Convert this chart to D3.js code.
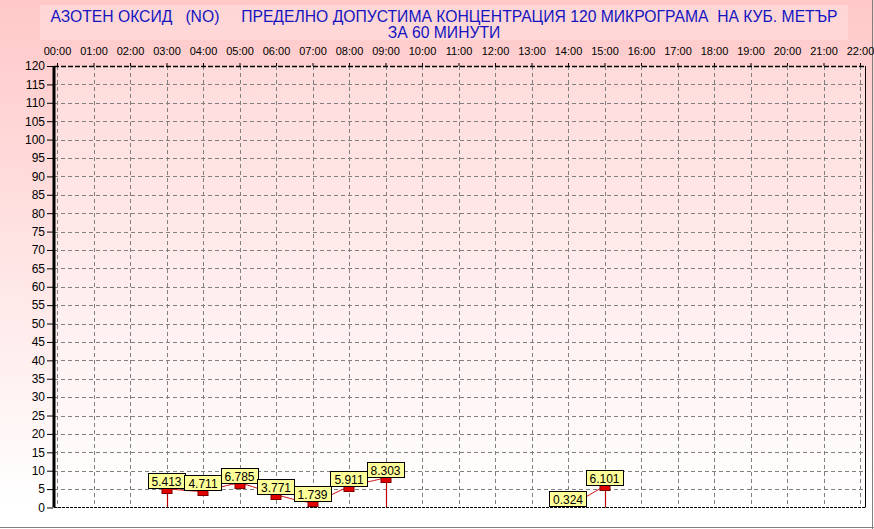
<!DOCTYPE html>
<html><head><meta charset="utf-8">
<script src="https://cdn.jsdelivr.net/npm/d3@7"></script>
<style>html,body{margin:0;padding:0;background:#fff;}svg{display:block;font-family:Arial,"Liberation Sans",sans-serif;}</style>
</head><body>
<script>
const titleLine1 = "АЗОТЕН ОКСИД   (NO)     ПРЕДЕЛНО ДОПУСТИМА КОНЦЕНТРАЦИЯ 120 МИКРОГРАМА  НА КУБ. МЕТЪР";
const titleLine2 = "ЗА 60 МИНУТИ";
const hourLabels = ["00:00","01:00","02:00","03:00","04:00","05:00","06:00","07:00","08:00","09:00","10:00","11:00","12:00","13:00","14:00","15:00","16:00","17:00","18:00","19:00","20:00","21:00","22:00"];
const yTicks = d3.range(0, 121, 5);
// measured segments (hour index, value)
const segment1Hours = [3,4,5,6,7,8,9];
const segment1Values = [5.413,4.711,6.785,3.771,1.739,5.911,8.303];
const segment2Hours = [14,15];
const segment2Values = [0.324,6.101];

const W = 874, H = 529;
const svg = d3.select("body").append("svg").attr("width", W).attr("height", H);
const defs = svg.append("defs");
const g = defs.append("linearGradient").attr("id","bg").attr("x1",0).attr("y1",0).attr("x2",0).attr("y2",1);
g.append("stop").attr("offset","0%").attr("stop-color","#ffc8c8");
g.append("stop").attr("offset","95%").attr("stop-color","#ffffff");
g.append("stop").attr("offset","100%").attr("stop-color","#ffffff");
svg.append("rect").attr("width",W).attr("height",H).attr("fill","url(#bg)");
defs.append("clipPath").attr("id","plotclip").append("rect").attr("x",54).attr("y",66).attr("width",812).attr("height",441);
// outer frame bottom/right
svg.append("line").attr("x1",0).attr("x2",W).attr("y1",H-1.5).attr("y2",H-1.5).attr("stroke","#808080");
svg.append("line").attr("x1",W-1.5).attr("x2",W-1.5).attr("y1",0).attr("y2",H).attr("stroke","#808080");

// title box
svg.append("rect").attr("x",40).attr("y",5).attr("width",808).attr("height",35).attr("fill","#ffdcdc").attr("opacity",0.7);
svg.append("text").attr("x",444).attr("y",22).attr("text-anchor","middle").attr("font-size",15.7).attr("fill","#1414c0").style("white-space","pre").text(titleLine1);
svg.append("text").attr("x",444).attr("y",38).attr("text-anchor","middle").attr("font-size",15.7).attr("fill","#1414c0").text(titleLine2);

const x = d3.scaleLinear().domain([0,22]).range([57,860]);
const y = d3.scaleLinear().domain([0,120]).range([507.5,66]);
const pLeft = 54, pRight = 865.5, pTop = 66, pBottom = 507.5;

// plot background (slightly lighter)
svg.append("rect").attr("x",pLeft).attr("y",pTop).attr("width",pRight-pLeft).attr("height",pBottom-pTop).attr("fill","#ffffff").attr("opacity",0.25);

// grid
const grid = svg.append("g").attr("stroke","#808080").attr("stroke-dasharray","4,3").attr("shape-rendering","crispEdges");
yTicks.slice(1,-1).forEach(v=>{
  grid.append("line").attr("x1",pLeft).attr("x2",pRight).attr("y1",Math.round(y(v))+0.5).attr("y2",Math.round(y(v))+0.5);
});
hourLabels.forEach((h,i)=>{
  grid.append("line").attr("x1",Math.round(x(i))+0.5).attr("x2",Math.round(x(i))+0.5).attr("y1",pTop).attr("y2",pBottom);
});

// borders
svg.append("line").attr("x1",pLeft).attr("x2",pRight).attr("y1",pTop+0.5).attr("y2",pTop+0.5).attr("stroke","#000").attr("stroke-width",1.5).attr("stroke-dasharray","5,2");
svg.append("line").attr("x1",pLeft).attr("x2",pRight).attr("y1",pBottom).attr("y2",pBottom).attr("stroke","#000").attr("stroke-dasharray","3,1");
svg.append("line").attr("x1",pRight).attr("x2",pRight).attr("y1",pTop).attr("y2",pBottom).attr("stroke","#000");
svg.append("line").attr("x1",pLeft).attr("x2",pLeft).attr("y1",pTop).attr("y2",pBottom).attr("stroke","#000").attr("stroke-width",3);

// y axis
const yAxis = d3.axisLeft(y).tickValues(yTicks).tickSize(6).tickPadding(2);
const ya = svg.append("g").attr("transform",`translate(${pLeft-1},0)`).call(yAxis);
ya.select(".domain").remove();
ya.selectAll("text").attr("font-size",12).attr("font-family","Arial, 'Liberation Sans', sans-serif").attr("fill","#000");
ya.selectAll("line").attr("stroke","#000");

// x axis (top)
const xAxis = d3.axisTop(x).tickValues(d3.range(0,23)).tickFormat(i=>hourLabels[i]).tickSize(3).tickPadding(8);
const xa = svg.append("g").attr("transform",`translate(0,${pTop})`).call(xAxis);
xa.select(".domain").remove();
xa.selectAll("text").attr("font-size",11).attr("font-family","Arial, 'Liberation Sans', sans-serif").attr("fill","#000");
xa.selectAll("line").attr("stroke","#000");

// series
const segments = [
  segment1Hours.map((h,i)=>({h, v: segment1Values[i]})),
  segment2Hours.map((h,i)=>({h, v: segment2Values[i]}))
];
const series = svg.append("g").attr("clip-path","url(#plotclip)");
const line = d3.line().x(d=>x(d.h)).y(d=>y(d.v)+1).curve(d3.curveCardinal.tension(0.3));
segments.forEach(seg=>{
  series.append("path").datum(seg).attr("d",line).attr("fill","none").attr("stroke","#d01010").attr("stroke-width",1);
  [seg[0], seg[seg.length-1]].forEach(d=>{
    if (y(0)-y(d.v) > 4)
      series.append("line").attr("x1",Math.round(x(d.h))+0.5).attr("x2",Math.round(x(d.h))+0.5).attr("y1",y(d.v)).attr("y2",y(0)).attr("stroke","#c00000").attr("stroke-width",1.2);
  });
});
const allPts = segments.flat();
series.selectAll("rect.mk").data(allPts).enter().append("rect").attr("class","mk")
  .attr("x",d=>Math.round(x(d.h))-5).attr("y",d=>Math.round(y(d.v))+0.5).attr("width",10).attr("height",5)
  .attr("fill","#e00000").attr("stroke","#800000").attr("stroke-width",1);

// labels
const lab = svg.selectAll("g.lab").data(allPts).enter().append("g").attr("class","lab");
lab.append("rect").attr("x",d=>Math.round(x(d.h))-18.5).attr("y",d=>Math.min(Math.round(y(d.v))-14.5, 492.5)).attr("width",37).attr("height",15)
  .attr("fill","#ffff99").attr("stroke","#000").attr("stroke-width",1);
lab.append("text").attr("x",d=>x(d.h)).attr("y",d=>Math.min(Math.round(y(d.v))-14.5, 492.5)+12).attr("text-anchor","middle")
  .attr("font-size",12).attr("fill","#000").text(d=>d.v.toFixed(3));
</script>
</body></html>
